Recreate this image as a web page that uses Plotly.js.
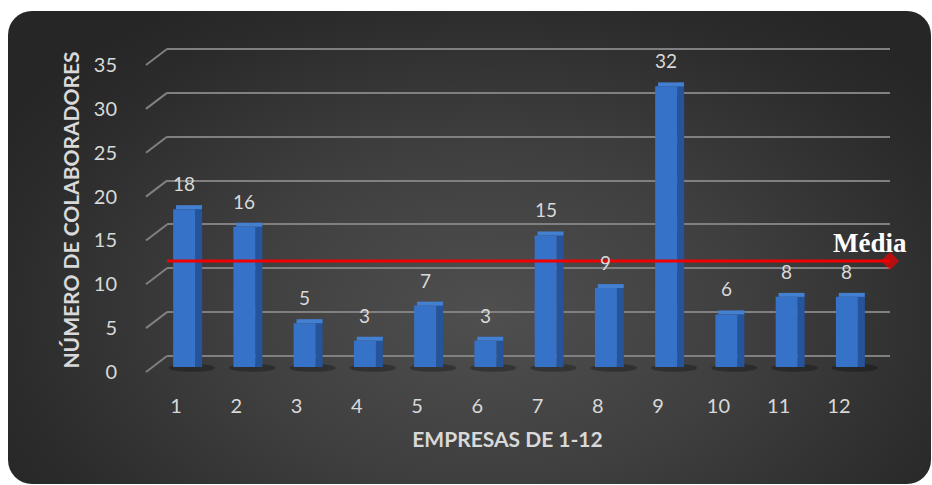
<!DOCTYPE html>
<html>
<head>
<meta charset="utf-8">
<script src="https://cdn.plot.ly/plotly-3.0.1.min.js"></script>
<style>
  html, body { margin: 0; padding: 0; background: #ffffff; }
  #wrap { position: relative; width: 932px; height: 485px; overflow: hidden; }
  #card {
    position: absolute; left: 8px; top: 11px; width: 923px; height: 473px;
    border-radius: 24px;
    background: radial-gradient(ellipse 62% 78% at 52% 64%, #4f4f4f 0%, #3f3f3f 45%, #2b2b2b 85%, #262626 100%);
  }
  #chart { position: absolute; left: 0; top: 0; width: 932px; height: 485px; }
</style>
</head>
<body>
<div id="wrap"><div id="card"></div><div id="chart"></div></div>
<script>
// Companies 1-12 and their number of employees
const empresas = ['1', '2', '3', '4', '5', '6', '7', '8', '9', '10', '11', '12'];
const colaboradores = [18, 16, 5, 3, 7, 3, 15, 9, 32, 6, 8, 8];
const yTicks = [0, 5, 10, 15, 20, 25, 30, 35];
const mediaLabel = 'Média';

// Page geometry (pixels)
const W = 932, H = 485;
const M = { l: 146, r: 42, t: 40, b: 105 };
const plotW = W - M.l - M.r;
const plotTop = M.t, plotBottom = H - M.b;
const UNIT_PX = 8.77;          // pixels per employee on the value axis
const DEPTH_X = 21;            // horizontal shift between front and back planes
const GRID_ZERO = 356;         // back wall baseline
const BAR_ZERO = 367;          // bar baseline (middle depth)
const LABEL_ZERO = 372;        // front plane baseline (tick labels)
const TOP_RISE = 0.45;         // bar top face thickness, in value units

const idx = empresas.map((_, i) => i);
const media = colaboradores.reduce((a, b) => a + b, 0) / colaboradores.length;
const catPx = (plotW - DEPTH_X) / empresas.length;

function yRange(zeroPx) {
  return [-(plotBottom - zeroPx) / UNIT_PX, (zeroPx - plotTop) / UNIT_PX];
}
function frac(range, v) { return (v - range[0]) / (range[1] - range[0]); }

const gridRange = yRange(GRID_ZERO);
const barRange = yRange(BAR_ZERO);
const labelRange = yRange(LABEL_ZERO);

const txt = '#d9d9d9';
const gridColor = '#808080';
const numFont = { family: 'Lato, "Open Sans", sans-serif', size: 20, color: txt };
const titleFont = { family: 'Lato, "Open Sans", sans-serif', size: 21, color: txt, weight: 'bold' };

// 3D-style bars: right side face, top face, front face
const sideFace = {
  type: 'bar', x: idx, y: colaboradores.map(v => v + TOP_RISE),
  xaxis: 'x', yaxis: 'y', offset: -0.033, width: 0.116,
  marker: { color: '#25549a', line: { width: 0 } }, hoverinfo: 'skip'
};
const topFace = {
  type: 'bar', x: idx, y: colaboradores.map(() => TOP_RISE), base: colaboradores,
  xaxis: 'x', yaxis: 'y', offset: -0.35, width: 0.43,
  marker: { color: '#4480d2', line: { width: 0 } }, hoverinfo: 'skip'
};
const frontFace = {
  type: 'bar', x: idx, y: colaboradores, name: 'Colaboradores',
  xaxis: 'x', yaxis: 'y', offset: -0.398, width: 0.365,
  marker: { color: '#3672c8', line: { width: 0 } }, hoverinfo: 'skip'
};

// Average line with diamond end marker (on the back-wall scale)
const mediaLine = {
  type: 'scatter', mode: 'lines+markers',
  x: [-0.5 - 5 / catPx, empresas.length - 0.5], y: [media, media],
  xaxis: 'x', yaxis: 'y2',
  line: { color: '#f00000', width: 3 },
  marker: { symbol: 'diamond', size: [0, 14], color: '#f00000', line: { width: 0 } },
  cliponaxis: false, hoverinfo: 'skip'
};

// Front plane carrier for the tick labels
const frontPlane = {
  type: 'scatter', mode: 'markers', x: idx, y: colaboradores,
  xaxis: 'x2', yaxis: 'y3', marker: { opacity: 0, size: 1 }, hoverinfo: 'skip'
};

// Diagonal floor-to-wall connectors of the gridlines
const shapes = yTicks.map(v => ({
  type: 'line', xref: 'paper', yref: 'paper',
  x0: 0, y0: frac(labelRange, v), x1: DEPTH_X / plotW, y1: frac(gridRange, v),
  line: { color: gridColor, width: 2 }
}));
// Soft floor shadows under the bars
idx.forEach(i => shapes.push({
  type: 'circle', xref: 'x', yref: 'y', layer: 'below',
  x0: i - 0.47, x1: i + 0.3, y0: -0.55, y1: 0.35,
  fillcolor: 'rgba(0,0,0,0.28)', line: { width: 0 }
}));

const annotations = colaboradores.map((v, i) => ({
  xref: 'x', yref: 'y', x: i, y: v, text: String(v),
  showarrow: false, xanchor: 'center', yanchor: 'bottom', xshift: -13, yshift: 12,
  font: { family: numFont.family, size: 19, color: txt }
}));
annotations.push({
  xref: 'x', yref: 'y2', x: empresas.length - 0.5, y: media, text: '<b>' + mediaLabel + '</b>',
  showarrow: false, xanchor: 'right', yanchor: 'bottom', xshift: 19, yshift: 1,
  font: { family: '"Liberation Serif", "Times New Roman", serif', size: 27, color: '#ffffff' }
});

const layout = {
  width: W, height: H,
  margin: M,
  paper_bgcolor: 'rgba(0,0,0,0)', plot_bgcolor: 'rgba(0,0,0,0)',
  showlegend: false, hovermode: false, barmode: 'overlay',
  xaxis: {
    domain: [DEPTH_X / plotW, 1], anchor: 'y', range: [-0.5, empresas.length - 0.5],
    showticklabels: false, showgrid: false, zeroline: false, showline: false, ticks: ''
  },
  yaxis: {
    domain: [0, 1], anchor: 'x', range: barRange, visible: false,
    showgrid: false, zeroline: false
  },
  yaxis2: {
    overlaying: 'y', anchor: 'x', range: gridRange, tick0: 0, dtick: 5,
    showgrid: true, gridcolor: gridColor, gridwidth: 2, zeroline: false,
    showticklabels: false, ticks: '', showline: false
  },
  xaxis2: {
    domain: [0, 1 - DEPTH_X / plotW], anchor: 'y3', range: [-0.5, empresas.length - 0.5],
    tickmode: 'array', tickvals: idx, ticktext: empresas,
    ticks: 'outside', ticklen: 8, tickcolor: 'rgba(0,0,0,0)',
    tickfont: numFont, showgrid: false, zeroline: false, showline: false,
    title: { text: 'EMPRESAS DE 1-12', font: titleFont, standoff: 16 }
  },
  yaxis3: {
    domain: [0, 1], anchor: 'x2', range: labelRange,
    tickmode: 'array', tickvals: yTicks, ticktext: yTicks.map(String),
    ticks: 'outside', ticklen: 24, tickcolor: 'rgba(0,0,0,0)',
    tickfont: numFont, showgrid: false, zeroline: false, showline: false,
    title: { text: 'NÚMERO DE COLABORADORES', font: titleFont, standoff: 8 }
  },
  shapes: shapes,
  annotations: annotations
};

Plotly.newPlot('chart', [sideFace, topFace, frontFace, mediaLine, frontPlane], layout,
  { staticPlot: true, displayModeBar: false });
</script>
</body>
</html>
